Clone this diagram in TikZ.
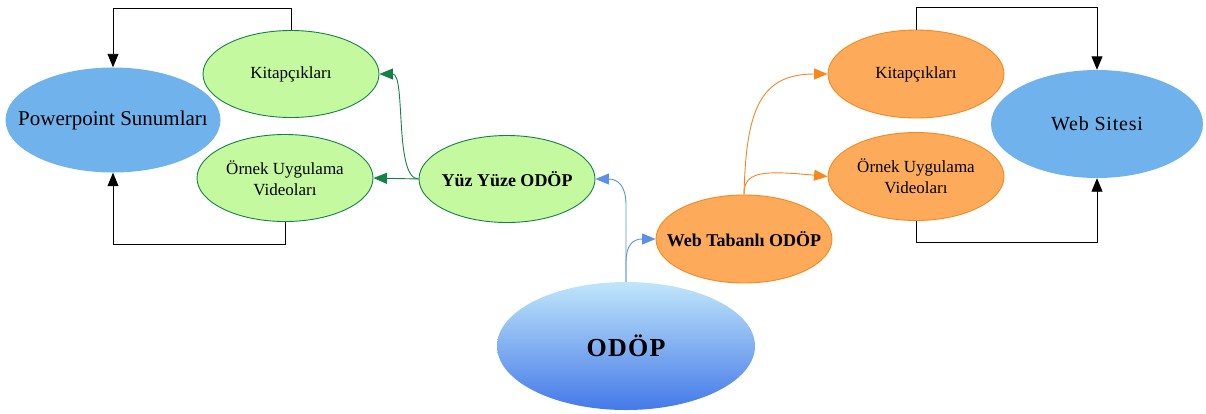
\documentclass[tikz,border=0pt]{standalone}
\usepackage{fontspec}
\setmainfont{Liberation Serif}
\usetikzlibrary{shapes.geometric,arrows.meta}
\definecolor{ppblue}{RGB}{112,178,236}
\definecolor{gfill}{RGB}{197,249,160}
\definecolor{gline}{RGB}{20,130,70}
\definecolor{ofill}{RGB}{253,170,90}
\definecolor{oline}{RGB}{245,137,30}
\definecolor{bline}{RGB}{90,145,232}
\definecolor{odtop}{RGB}{192,230,250}
\definecolor{odbot}{RGB}{68,121,232}
\tikzset{
  ell/.style={ellipse, inner xsep=-25pt, inner ysep=0pt, align=center},
  bluebig/.style={ell, fill=ppblue},
  greenbox/.style={ell, fill=gfill, draw=gline, line width=0.9pt, minimum width=176pt, minimum height=87pt},
  orangebox/.style={ell, fill=ofill, draw=oline, line width=0.9pt, minimum width=176pt, minimum height=88pt},
  txt/.style={font=\fontsize{17}{21}\selectfont},
  tip/.style={-{Triangle[length=13.5pt,width=11pt]}},
  blk/.style={tip, draw=black, line width=0.9pt},
  grn/.style={tip, draw=gline, line width=0.9pt},
  org/.style={tip, draw=oline, line width=0.9pt},
  blu/.style={tip, draw=bline, line width=0.9pt},
}
\begin{document}
\begin{tikzpicture}[x=1pt,y=-1pt]
\useasboundingbox (0,0) rectangle (1206,413);
% nodes
\node[bluebig, minimum width=215pt, minimum height=105pt, font=\fontsize{21}{25}\selectfont] (pp) at (113,120) {Powerpoint Sunumları};
\node[greenbox, txt] (lk) at (291,74) {Kitapçıkları};
\node[greenbox, txt] (lo) at (285,178) {Örnek Uygulama\\Videoları};
\node[greenbox, font=\fontsize{18}{22}\selectfont\bfseries] (yy) at (507,179) {Yüz Yüze ODÖP};
\node[orangebox, font=\fontsize{18}{22}\selectfont\bfseries] (wt) at (744,239) {Web Tabanlı ODÖP};
\node[ell, minimum width=258pt, minimum height=128pt, top color=odtop, bottom color=odbot, font=\fontsize{26}{30}\selectfont\bfseries\addfontfeature{LetterSpace=5}] (od) at (626,346) {ODÖP};
\node[orangebox, txt] (rk) at (916,74) {Kitapçıkları};
\node[orangebox, txt] (ro) at (916,176.5) {Örnek Uygulama\\Videoları};
\node[bluebig, minimum width=212pt, minimum height=108pt, font=\fontsize{20}{24}\selectfont\addfontfeature{LetterSpace=4}] (ws) at (1097,124) {Web Sitesi};
% black connectors
\draw[blk] (lk.north) -- ++(0,-22) -| (pp.north);
\draw[blk] (lo.south) -- ++(0,22) -| (pp.south);
\draw[blk] (rk.north) -- ++(0,-22) -| (ws.north);
\draw[blk] (ro.south) -- ++(0,21) -| (ws.south);
% green connectors
\draw[grn] (yy.west) -- (lo.east);
\draw[grn] (yy.west) .. controls (394,179) and (406,74) .. (lk.east);
% blue connectors
\draw[blu] (od.north) -- (626,205) .. controls (626,186) and (618,179) .. (yy.east);
\draw[blu] (od.north) -- (626,262) .. controls (626,245) and (633,239) .. (wt.west);
% orange connectors
\draw[org] (wt.north) .. controls (746,110) and (760,74) .. (rk.west);
\draw[org] (wt.north) .. controls (744,172) and (760,170) .. (ro.west);
\end{tikzpicture}
\end{document}
